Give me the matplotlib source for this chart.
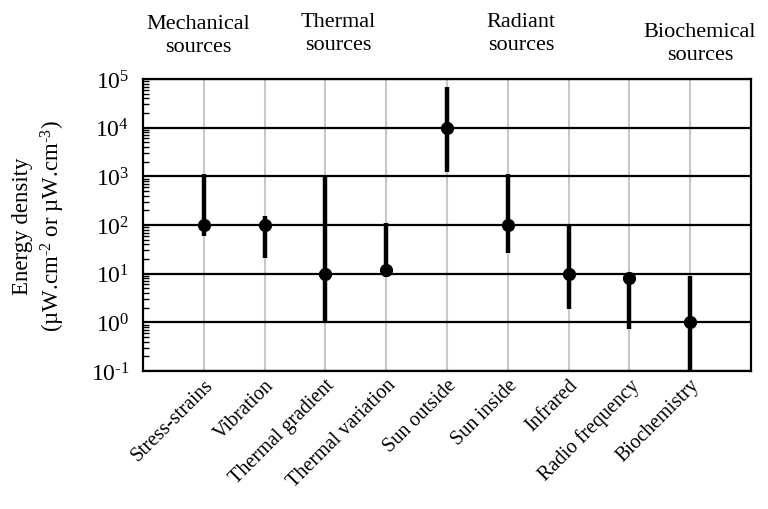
import matplotlib
matplotlib.use('Agg')
import matplotlib.pyplot as plt
import numpy as np

plt.rcParams['font.family'] = 'Liberation Serif'
plt.rcParams['mathtext.fontset'] = 'custom'
plt.rcParams['mathtext.rm'] = 'Liberation Serif'
plt.rcParams['mathtext.default'] = 'regular'
plt.rcParams['axes.unicode_minus'] = False

categories = ['Stress-strains', 'Vibration', 'Thermal gradient', 'Thermal variation',
              'Sun outside', 'Sun inside', 'Infrared', 'Radio frequency', 'Biochemistry']
values = [100, 100, 10, 12, 10000, 100, 10, 8, 1]
low = [60, 21, 1, 8.5, 1250, 27, 1.9, 0.72, 0.1]
high = [1100, 150, 1000, 110, 67000, 1100, 96, 9, 8.9]
groups = ['Mechanical\nsources', 'Thermal\nsources', 'Radiant\nsources', 'Biochemical\nsources']
group_pos = [(198, 36), (338, 34), (521, 34), (700, 44)]  # pixel centres

fig = plt.figure(figsize=(7.68, 5.10), dpi=100)
ax = fig.add_axes([143/768, 1-372/510, (751-143)/768, (372-80)/510])

x = np.arange(1, len(categories) + 1)
vals = np.array(values)
yerr = [vals - np.array(low), np.array(high) - vals]

for xi in x:
    ax.axvline(xi, color='#c8c8c8', lw=1.5, zorder=1)
for e in range(-1, 6):
    ax.axhline(10.0**e, color='black', lw=1.6, zorder=1)

ax.errorbar(x, vals, yerr=yerr, fmt='o', color='black', ms=8.5, elinewidth=3.2,
            capsize=0, zorder=3)

ax.set_yscale('log')
ax.set_ylim(0.1, 1e5)
ax.set_xlim(0, 10)
ax.set_yticks([10.0**e for e in range(-1, 6)])
ax.set_yticklabels([r'10$^{\text{%d}}$' % e for e in range(-1, 6)])
ax.set_xticks(x)
ax.set_xticklabels(categories, rotation=45, ha='right', rotation_mode='anchor', fontsize=14.5)
ax.tick_params(axis='x', length=0, pad=3)
ax.tick_params(axis='y', which='major', length=0, labelsize=17, pad=10)
ax.tick_params(axis='y', which='minor', direction='in', length=4, width=1)
for s in ax.spines.values():
    s.set_linewidth(1.6)
    s.set_color('black')

ax.set_ylabel('Energy density\n' + r'(µW.cm$^{\text{-2}}$ or µW.cm$^{\text{-3}}$)',
              fontsize=16.5, linespacing=1.3, va='center')
ax.yaxis.set_label_coords(-0.17, 0.5)

for g, (px, py) in zip(groups, group_pos):
    fig.text(px/768, 1-py/510, g, ha='center', va='center', fontsize=16, linespacing=1.25)

fig.savefig('out.png', dpi=100)
